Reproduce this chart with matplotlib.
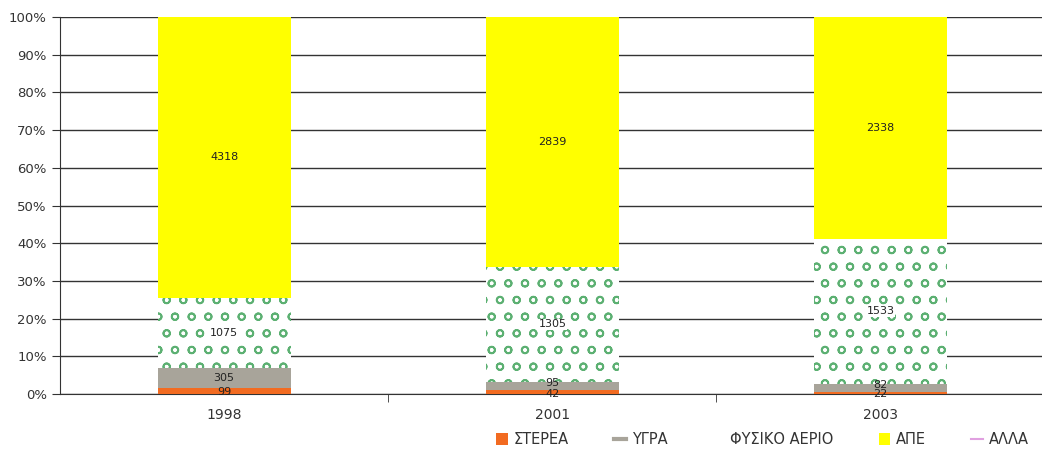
import matplotlib.pyplot as plt
from matplotlib.lines import Line2D
from matplotlib.patches import Patch
import numpy as np

# values per year (absolute), plotted as share of the yearly total
years = ['1998', '2001', '2003']
sterea = [99, 42, 22]
ygra = [305, 95, 82]
fysiko_aerio = [1075, 1305, 1533]
ape = [4318, 2839, 2338]
alla = [0, 0, 0]

names = ['ΣΤΕΡΕΑ', 'ΥΓΡΑ', 'ΦΥΣΙΚΟ ΑΕΡΙΟ', 'ΑΠΕ', 'ΑΛΛΑ']
series = [sterea, ygra, fysiko_aerio, ape, alla]

plt.rcParams['hatch.linewidth'] = 1.3

fig = plt.figure(figsize=(10.42, 4.49), dpi=100)
ax = fig.add_axes([0.0576, 0.1225, 0.945, 0.8395])

x = np.arange(len(years))
data = np.array(series, dtype=float)
totals = data.sum(axis=0)
pct = data / totals * 100

width = 0.405
bottom = np.zeros(len(years))
styles = [
    dict(color='#f26b21'),
    dict(color='#a8a49a'),
    dict(facecolor='white', edgecolor='#5cb072', hatch='o', linewidth=0),
    dict(color='#ffff00'),
    dict(color='#e0a0e0'),
]
for i, (vals, p) in enumerate(zip(series, pct)):
    ax.bar(x, p, width, bottom=bottom, zorder=3, **styles[i])
    for j in range(len(years)):
        if vals[j] > 0:
            y = bottom[j] + p[j] / 2
            # small bottom segments: nudge labels apart a little
            if p[j] < 3 and i == 0:
                y -= 0.4
            elif p[j] < 3 and i == 1:
                y += 0.8
            ax.text(x[j], y, str(vals[j]), ha='center', va='center',
                    fontsize=8, color='#222222', zorder=4,
                    bbox=dict(facecolor='white', edgecolor='none', pad=0.5) if i == 2 else None)
    bottom += p

ax.set_xlim(-0.5, 2.5)
ax.set_ylim(0, 100)
ax.set_yticks(np.arange(0, 101, 10))
ax.set_yticklabels([f'{v}%' for v in range(0, 101, 10)], fontsize=9.5, color='#333333')
ax.yaxis.grid(True, color='#333333', linewidth=1, zorder=0)
ax.set_axisbelow(True)

ax.set_xticks(x)
ax.set_xticklabels(years, fontsize=10, color='#333333')
ax.tick_params(axis='x', length=0, pad=10)
ax.set_xticks([0.5, 1.5], minor=True)
ax.tick_params(axis='x', which='minor', length=6, color='#333333')
ax.tick_params(axis='y', length=6, color='#333333')

for s in ['top', 'right']:
    ax.spines[s].set_visible(False)
ax.spines['left'].set_color('#333333')
ax.spines['bottom'].set_color('#333333')

handles = [
    Patch(facecolor='#f26b21'),
    Line2D([0], [0], color='#a8a49a', linewidth=3),
    Patch(facecolor='white', edgecolor='white'),
    Patch(facecolor='#ffff00'),
    Line2D([0], [0], color='#e0a0e0', linewidth=1.5),
]
fig.legend(handles, names, loc='lower right', bbox_to_anchor=(1.0, -0.025), ncol=5,
           frameon=False, fontsize=10.5, handlelength=0.8, handleheight=0.8,
           columnspacing=3.1, handletextpad=0.4, labelcolor='#333333')

fig.savefig('out.png', dpi=100)
